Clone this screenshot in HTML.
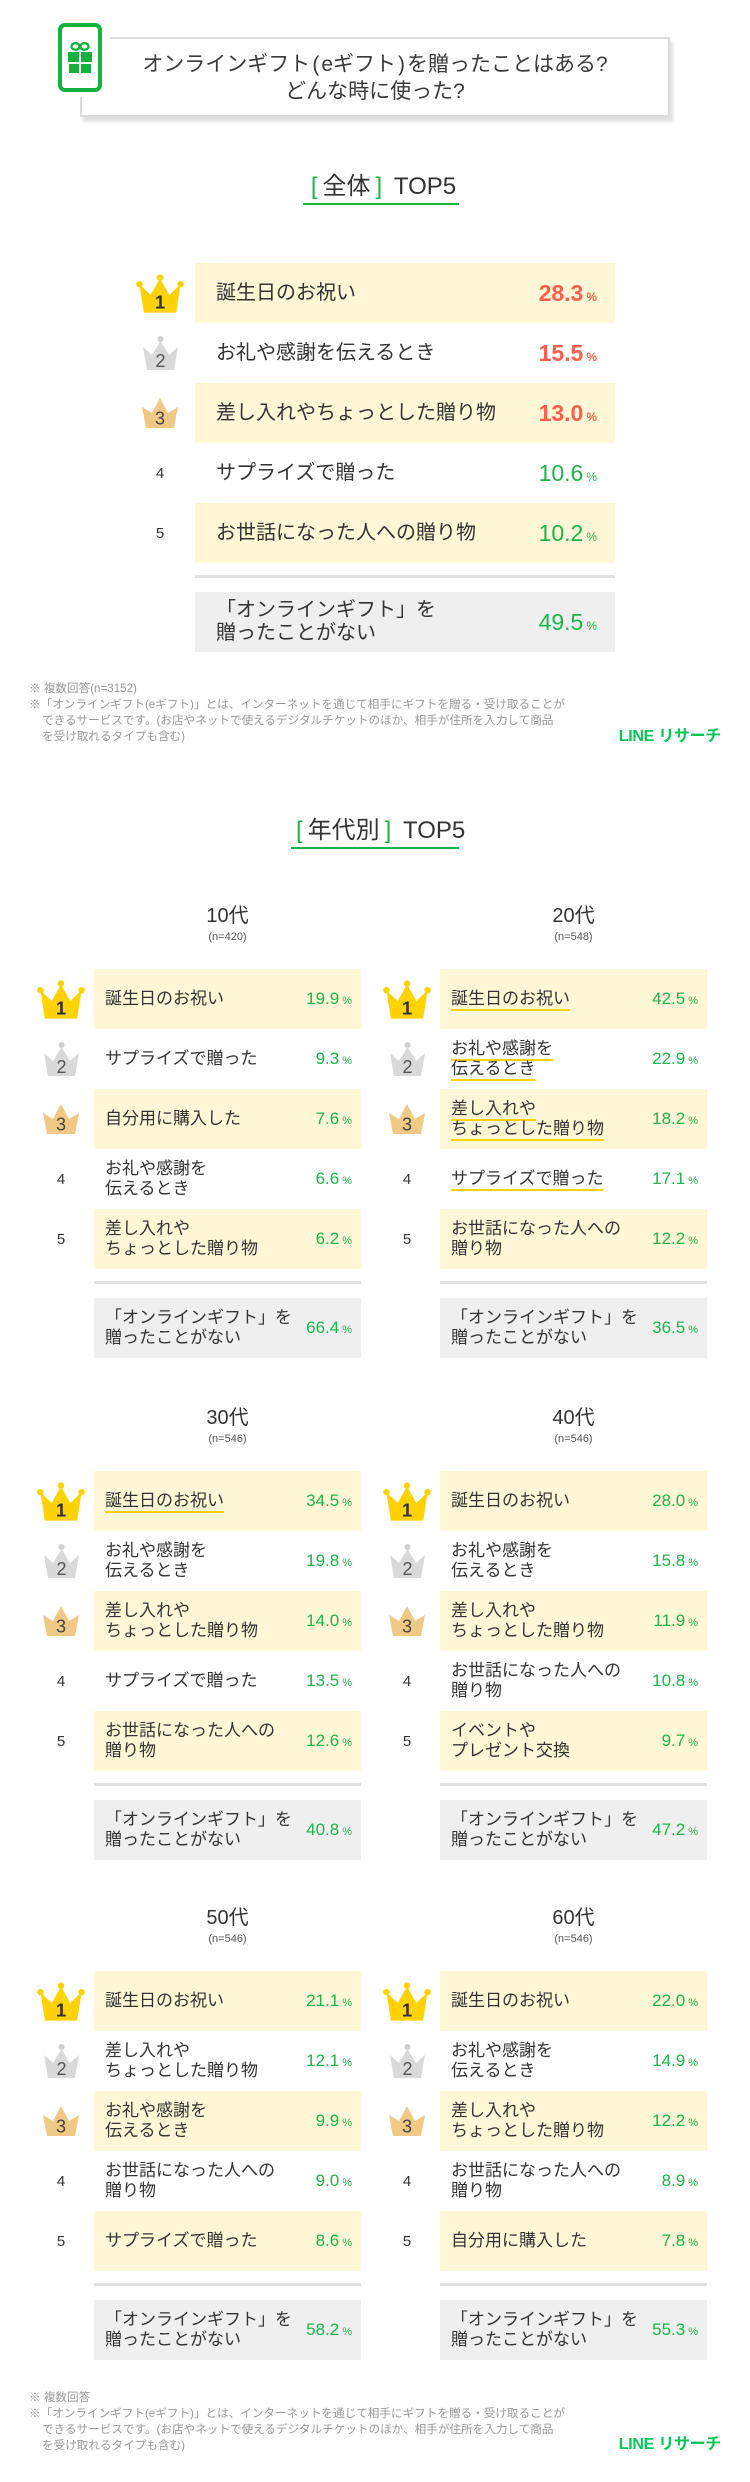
<!DOCTYPE html>
<html lang="ja">
<head>
<meta charset="utf-8">
<style>
*{margin:0;padding:0;box-sizing:border-box}
html,body{width:750px;height:2482px;background:#fff;overflow:hidden}
body{position:relative;font-family:"Liberation Sans","Noto Sans CJK JP",sans-serif;color:#333}
.abs{position:absolute}
.tbox{position:absolute;left:80px;top:37px;width:590px;height:80px;border:2px solid #dcdcdc;box-shadow:3px 5px 3px rgba(0,0,0,0.12);background:#fff}
.halo{position:absolute;left:50px;top:15px;width:60px;height:82px;background:#fff}
.title{position:absolute;left:80px;top:37px;width:590px;text-align:center;font-size:21px;line-height:27px;padding-top:14px;color:#3a3a3a;white-space:nowrap}
.title .p{margin:0 2px}
.h2{position:absolute;height:34px;line-height:32px;font-size:24px;color:#333;border-bottom:2px solid #1db446;text-align:center;white-space:nowrap}
.h2 .b{color:#1db446;margin:0 5px}
.note{position:absolute;left:29px;font-size:11.6px;line-height:16px;color:#999;white-space:nowrap}
.note div{padding-left:13px;text-indent:-13px}
.logo{position:absolute;right:29px;font-size:16px;font-weight:bold;color:#06c755;line-height:20px;white-space:nowrap;letter-spacing:-0.3px}
.panel{position:absolute;width:267px}
.wide{width:420px}
.row{position:relative;height:60px}
.y{background:#fff7d6}
.g{background:#efefef}
.sep{position:absolute;left:0;right:0;top:312px;height:3px;background:#e2e2e2}
.gb{position:absolute;left:0;right:0;top:329px}
.rk{position:absolute;top:0;left:-57px;width:48px;height:60px;display:flex;align-items:center;justify-content:center;font-size:15px;color:#333}
.wide .rk{left:-59px}
.lb{position:absolute;top:0;left:11px;height:60px;display:flex;align-items:center;font-size:17px;line-height:20px;white-space:nowrap;color:#333}
.wide .lb{left:21px;font-size:20px;line-height:23px}
.pc{position:absolute;top:0;right:9px;line-height:60px;font-size:17px;color:#1eb44c;white-space:nowrap}
.pc .u{font-size:11px;margin-left:3px}
.wide .pc{right:18px;font-size:23px}
.wide .pc .u{font-size:12px;margin-left:3px}
.red{color:#ff5f4f;font-weight:bold}
.ul{text-decoration:underline;text-decoration-color:#ffd200;text-decoration-thickness:2px;text-underline-offset:5px;text-decoration-skip-ink:none}
.hd{position:absolute;left:0;width:267px;text-align:center;top:-64px;font-size:20px;line-height:22px;color:#333}
.hn{position:absolute;left:0;width:267px;text-align:center;top:-39px;font-size:11px;line-height:14px;color:#555}
</style>
</head>
<body>

<!-- Title -->
<div class="tbox"></div>
<div class="halo"></div>
<svg class="abs" style="left:58px;top:23px" width="44" height="69" viewBox="0 0 44 69">
<rect x="2" y="2" width="40" height="65" rx="5" fill="none" stroke="#12b23c" stroke-width="4"/>
<ellipse cx="17.5" cy="23.5" rx="4" ry="3.3" fill="none" stroke="#12b23c" stroke-width="2.4"/>
<ellipse cx="26.5" cy="23.5" rx="4" ry="3.3" fill="none" stroke="#12b23c" stroke-width="2.4"/>
<rect x="10" y="29" width="11" height="10" fill="#12b23c"/>
<rect x="23" y="29" width="11" height="10" fill="#12b23c"/>
<rect x="11" y="41" width="10" height="9" fill="#12b23c"/>
<rect x="23" y="41" width="10" height="9" fill="#12b23c"/>
</svg>
<div class="title">オンラインギフト<span class="p">(</span>eギフト<span class="p">)</span>を贈ったことはある?<br>どんな時に使った?</div>

<!-- [全体] TOP5 -->
<div class="h2" style="left:303px;top:171px;width:156px"><span class="b">[</span>全体<span class="b">]</span> TOP5</div>

<div class="panel wide" style="left:195px;top:263px">
  <div class="row y"><div class="rk"><svg width="49" height="39" viewBox="0 0 49 39"><g fill="#ffd200"><circle cx="3.5" cy="10" r="3.3"/><circle cx="24.5" cy="3.3" r="3.3"/><circle cx="45.5" cy="10" r="3.3"/><path d="M3.5 10L15 21L24.5 4L34 21L45.5 10L41 39H8Z"/></g><text x="24.5" y="35" text-anchor="middle" font-family="Liberation Sans,sans-serif" font-weight="bold" font-size="19" fill="#333">1</text></svg></div><div class="lb">誕生日のお祝い</div><div class="pc red">28.3<span class="u">%</span></div></div>
  <div class="row"><div class="rk"><svg width="35" height="34" viewBox="0 0 35 34"><circle cx="17.5" cy="3" r="3" fill="#d0d0d0"/><path d="M0 11L9 19L17.5 5L26 19L35 11L31 34H4Z" fill="#d9d9d9"/><text x="17.5" y="31" text-anchor="middle" font-family="Liberation Sans,sans-serif" font-size="18" fill="#555">2</text></svg></div><div class="lb">お礼や感謝を伝えるとき</div><div class="pc red">15.5<span class="u">%</span></div></div>
  <div class="row y"><div class="rk"><svg width="36" height="30" viewBox="0 0 36 30"><path d="M0 9L10 15L18 0L26 15L36 9L32 30H4Z" fill="#f0c987"/><text x="18" y="26.5" text-anchor="middle" font-family="Liberation Sans,sans-serif" font-size="18" fill="#444">3</text></svg></div><div class="lb">差し入れやちょっとした贈り物</div><div class="pc red">13.0<span class="u">%</span></div></div>
  <div class="row"><div class="rk">4</div><div class="lb">サプライズで贈った</div><div class="pc">10.6<span class="u">%</span></div></div>
  <div class="row y"><div class="rk">5</div><div class="lb">お世話になった人への贈り物</div><div class="pc">10.2<span class="u">%</span></div></div>
  <div class="sep"></div>
  <div class="row g gb"><div class="lb">「オンラインギフト」を<br>贈ったことがない</div><div class="pc">49.5<span class="u">%</span></div></div>
</div>

<div class="note" style="top:681px">
<div>※ 複数回答(n=3152)</div>
<div>※「オンラインギフト(eギフト)」とは、インターネットを通じて相手にギフトを贈る・受け取ることが<br>できるサービスです。(お店やネットで使えるデジタルチケットのほか、相手が住所を入力して商品<br>を受け取れるタイプも含む)</div>
</div>
<div class="logo" style="top:727px">LINE リサーチ</div>

<!-- [年代別] TOP5 -->
<div class="h2" style="left:291px;top:815px;width:168px"><span class="b">[</span>年代別<span class="b">]</span> TOP5</div>

<!-- 10代 -->
<div class="panel" style="left:94px;top:969px">
  <div class="hd">10代</div><div class="hn">(n=420)</div>
  <div class="row y"><div class="rk"><svg width="49" height="39" viewBox="0 0 49 39"><g fill="#ffd200"><circle cx="3.5" cy="10" r="3.3"/><circle cx="24.5" cy="3.3" r="3.3"/><circle cx="45.5" cy="10" r="3.3"/><path d="M3.5 10L15 21L24.5 4L34 21L45.5 10L41 39H8Z"/></g><text x="24.5" y="35" text-anchor="middle" font-family="Liberation Sans,sans-serif" font-weight="bold" font-size="19" fill="#333">1</text></svg></div><div class="lb">誕生日のお祝い</div><div class="pc">19.9<span class="u">%</span></div></div>
  <div class="row"><div class="rk"><svg width="35" height="34" viewBox="0 0 35 34"><circle cx="17.5" cy="3" r="3" fill="#d0d0d0"/><path d="M0 11L9 19L17.5 5L26 19L35 11L31 34H4Z" fill="#d9d9d9"/><text x="17.5" y="31" text-anchor="middle" font-family="Liberation Sans,sans-serif" font-size="18" fill="#555">2</text></svg></div><div class="lb">サプライズで贈った</div><div class="pc">9.3<span class="u">%</span></div></div>
  <div class="row y"><div class="rk"><svg width="36" height="30" viewBox="0 0 36 30"><path d="M0 9L10 15L18 0L26 15L36 9L32 30H4Z" fill="#f0c987"/><text x="18" y="26.5" text-anchor="middle" font-family="Liberation Sans,sans-serif" font-size="18" fill="#444">3</text></svg></div><div class="lb">自分用に購入した</div><div class="pc">7.6<span class="u">%</span></div></div>
  <div class="row"><div class="rk">4</div><div class="lb">お礼や感謝を<br>伝えるとき</div><div class="pc">6.6<span class="u">%</span></div></div>
  <div class="row y"><div class="rk">5</div><div class="lb">差し入れや<br>ちょっとした贈り物</div><div class="pc">6.2<span class="u">%</span></div></div>
  <div class="sep"></div>
  <div class="row g gb"><div class="lb">「オンラインギフト」を<br>贈ったことがない</div><div class="pc">66.4<span class="u">%</span></div></div>
</div>

<!-- 20代 -->
<div class="panel" style="left:440px;top:969px">
  <div class="hd">20代</div><div class="hn">(n=548)</div>
  <div class="row y"><div class="rk"><svg width="49" height="39" viewBox="0 0 49 39"><g fill="#ffd200"><circle cx="3.5" cy="10" r="3.3"/><circle cx="24.5" cy="3.3" r="3.3"/><circle cx="45.5" cy="10" r="3.3"/><path d="M3.5 10L15 21L24.5 4L34 21L45.5 10L41 39H8Z"/></g><text x="24.5" y="35" text-anchor="middle" font-family="Liberation Sans,sans-serif" font-weight="bold" font-size="19" fill="#333">1</text></svg></div><div class="lb"><span class="ul">誕生日のお祝い</span></div><div class="pc">42.5<span class="u">%</span></div></div>
  <div class="row"><div class="rk"><svg width="35" height="34" viewBox="0 0 35 34"><circle cx="17.5" cy="3" r="3" fill="#d0d0d0"/><path d="M0 11L9 19L17.5 5L26 19L35 11L31 34H4Z" fill="#d9d9d9"/><text x="17.5" y="31" text-anchor="middle" font-family="Liberation Sans,sans-serif" font-size="18" fill="#555">2</text></svg></div><div class="lb"><span class="ul">お礼や感謝を<br>伝えるとき</span></div><div class="pc">22.9<span class="u">%</span></div></div>
  <div class="row y"><div class="rk"><svg width="36" height="30" viewBox="0 0 36 30"><path d="M0 9L10 15L18 0L26 15L36 9L32 30H4Z" fill="#f0c987"/><text x="18" y="26.5" text-anchor="middle" font-family="Liberation Sans,sans-serif" font-size="18" fill="#444">3</text></svg></div><div class="lb"><span class="ul">差し入れや<br>ちょっとした贈り物</span></div><div class="pc">18.2<span class="u">%</span></div></div>
  <div class="row"><div class="rk">4</div><div class="lb"><span class="ul">サプライズで贈った</span></div><div class="pc">17.1<span class="u">%</span></div></div>
  <div class="row y"><div class="rk">5</div><div class="lb">お世話になった人への<br>贈り物</div><div class="pc">12.2<span class="u">%</span></div></div>
  <div class="sep"></div>
  <div class="row g gb"><div class="lb">「オンラインギフト」を<br>贈ったことがない</div><div class="pc">36.5<span class="u">%</span></div></div>
</div>

<!-- 30代 -->
<div class="panel" style="left:94px;top:1471px">
  <div class="hd">30代</div><div class="hn">(n=546)</div>
  <div class="row y"><div class="rk"><svg width="49" height="39" viewBox="0 0 49 39"><g fill="#ffd200"><circle cx="3.5" cy="10" r="3.3"/><circle cx="24.5" cy="3.3" r="3.3"/><circle cx="45.5" cy="10" r="3.3"/><path d="M3.5 10L15 21L24.5 4L34 21L45.5 10L41 39H8Z"/></g><text x="24.5" y="35" text-anchor="middle" font-family="Liberation Sans,sans-serif" font-weight="bold" font-size="19" fill="#333">1</text></svg></div><div class="lb"><span class="ul">誕生日のお祝い</span></div><div class="pc">34.5<span class="u">%</span></div></div>
  <div class="row"><div class="rk"><svg width="35" height="34" viewBox="0 0 35 34"><circle cx="17.5" cy="3" r="3" fill="#d0d0d0"/><path d="M0 11L9 19L17.5 5L26 19L35 11L31 34H4Z" fill="#d9d9d9"/><text x="17.5" y="31" text-anchor="middle" font-family="Liberation Sans,sans-serif" font-size="18" fill="#555">2</text></svg></div><div class="lb">お礼や感謝を<br>伝えるとき</div><div class="pc">19.8<span class="u">%</span></div></div>
  <div class="row y"><div class="rk"><svg width="36" height="30" viewBox="0 0 36 30"><path d="M0 9L10 15L18 0L26 15L36 9L32 30H4Z" fill="#f0c987"/><text x="18" y="26.5" text-anchor="middle" font-family="Liberation Sans,sans-serif" font-size="18" fill="#444">3</text></svg></div><div class="lb">差し入れや<br>ちょっとした贈り物</div><div class="pc">14.0<span class="u">%</span></div></div>
  <div class="row"><div class="rk">4</div><div class="lb">サプライズで贈った</div><div class="pc">13.5<span class="u">%</span></div></div>
  <div class="row y"><div class="rk">5</div><div class="lb">お世話になった人への<br>贈り物</div><div class="pc">12.6<span class="u">%</span></div></div>
  <div class="sep"></div>
  <div class="row g gb"><div class="lb">「オンラインギフト」を<br>贈ったことがない</div><div class="pc">40.8<span class="u">%</span></div></div>
</div>

<!-- 40代 -->
<div class="panel" style="left:440px;top:1471px">
  <div class="hd">40代</div><div class="hn">(n=546)</div>
  <div class="row y"><div class="rk"><svg width="49" height="39" viewBox="0 0 49 39"><g fill="#ffd200"><circle cx="3.5" cy="10" r="3.3"/><circle cx="24.5" cy="3.3" r="3.3"/><circle cx="45.5" cy="10" r="3.3"/><path d="M3.5 10L15 21L24.5 4L34 21L45.5 10L41 39H8Z"/></g><text x="24.5" y="35" text-anchor="middle" font-family="Liberation Sans,sans-serif" font-weight="bold" font-size="19" fill="#333">1</text></svg></div><div class="lb">誕生日のお祝い</div><div class="pc">28.0<span class="u">%</span></div></div>
  <div class="row"><div class="rk"><svg width="35" height="34" viewBox="0 0 35 34"><circle cx="17.5" cy="3" r="3" fill="#d0d0d0"/><path d="M0 11L9 19L17.5 5L26 19L35 11L31 34H4Z" fill="#d9d9d9"/><text x="17.5" y="31" text-anchor="middle" font-family="Liberation Sans,sans-serif" font-size="18" fill="#555">2</text></svg></div><div class="lb">お礼や感謝を<br>伝えるとき</div><div class="pc">15.8<span class="u">%</span></div></div>
  <div class="row y"><div class="rk"><svg width="36" height="30" viewBox="0 0 36 30"><path d="M0 9L10 15L18 0L26 15L36 9L32 30H4Z" fill="#f0c987"/><text x="18" y="26.5" text-anchor="middle" font-family="Liberation Sans,sans-serif" font-size="18" fill="#444">3</text></svg></div><div class="lb">差し入れや<br>ちょっとした贈り物</div><div class="pc">11.9<span class="u">%</span></div></div>
  <div class="row"><div class="rk">4</div><div class="lb">お世話になった人への<br>贈り物</div><div class="pc">10.8<span class="u">%</span></div></div>
  <div class="row y"><div class="rk">5</div><div class="lb">イベントや<br>プレゼント交換</div><div class="pc">9.7<span class="u">%</span></div></div>
  <div class="sep"></div>
  <div class="row g gb"><div class="lb">「オンラインギフト」を<br>贈ったことがない</div><div class="pc">47.2<span class="u">%</span></div></div>
</div>

<!-- 50代 -->
<div class="panel" style="left:94px;top:1971px">
  <div class="hd">50代</div><div class="hn">(n=546)</div>
  <div class="row y"><div class="rk"><svg width="49" height="39" viewBox="0 0 49 39"><g fill="#ffd200"><circle cx="3.5" cy="10" r="3.3"/><circle cx="24.5" cy="3.3" r="3.3"/><circle cx="45.5" cy="10" r="3.3"/><path d="M3.5 10L15 21L24.5 4L34 21L45.5 10L41 39H8Z"/></g><text x="24.5" y="35" text-anchor="middle" font-family="Liberation Sans,sans-serif" font-weight="bold" font-size="19" fill="#333">1</text></svg></div><div class="lb">誕生日のお祝い</div><div class="pc">21.1<span class="u">%</span></div></div>
  <div class="row"><div class="rk"><svg width="35" height="34" viewBox="0 0 35 34"><circle cx="17.5" cy="3" r="3" fill="#d0d0d0"/><path d="M0 11L9 19L17.5 5L26 19L35 11L31 34H4Z" fill="#d9d9d9"/><text x="17.5" y="31" text-anchor="middle" font-family="Liberation Sans,sans-serif" font-size="18" fill="#555">2</text></svg></div><div class="lb">差し入れや<br>ちょっとした贈り物</div><div class="pc">12.1<span class="u">%</span></div></div>
  <div class="row y"><div class="rk"><svg width="36" height="30" viewBox="0 0 36 30"><path d="M0 9L10 15L18 0L26 15L36 9L32 30H4Z" fill="#f0c987"/><text x="18" y="26.5" text-anchor="middle" font-family="Liberation Sans,sans-serif" font-size="18" fill="#444">3</text></svg></div><div class="lb">お礼や感謝を<br>伝えるとき</div><div class="pc">9.9<span class="u">%</span></div></div>
  <div class="row"><div class="rk">4</div><div class="lb">お世話になった人への<br>贈り物</div><div class="pc">9.0<span class="u">%</span></div></div>
  <div class="row y"><div class="rk">5</div><div class="lb">サプライズで贈った</div><div class="pc">8.6<span class="u">%</span></div></div>
  <div class="sep"></div>
  <div class="row g gb"><div class="lb">「オンラインギフト」を<br>贈ったことがない</div><div class="pc">58.2<span class="u">%</span></div></div>
</div>

<!-- 60代 -->
<div class="panel" style="left:440px;top:1971px">
  <div class="hd">60代</div><div class="hn">(n=546)</div>
  <div class="row y"><div class="rk"><svg width="49" height="39" viewBox="0 0 49 39"><g fill="#ffd200"><circle cx="3.5" cy="10" r="3.3"/><circle cx="24.5" cy="3.3" r="3.3"/><circle cx="45.5" cy="10" r="3.3"/><path d="M3.5 10L15 21L24.5 4L34 21L45.5 10L41 39H8Z"/></g><text x="24.5" y="35" text-anchor="middle" font-family="Liberation Sans,sans-serif" font-weight="bold" font-size="19" fill="#333">1</text></svg></div><div class="lb">誕生日のお祝い</div><div class="pc">22.0<span class="u">%</span></div></div>
  <div class="row"><div class="rk"><svg width="35" height="34" viewBox="0 0 35 34"><circle cx="17.5" cy="3" r="3" fill="#d0d0d0"/><path d="M0 11L9 19L17.5 5L26 19L35 11L31 34H4Z" fill="#d9d9d9"/><text x="17.5" y="31" text-anchor="middle" font-family="Liberation Sans,sans-serif" font-size="18" fill="#555">2</text></svg></div><div class="lb">お礼や感謝を<br>伝えるとき</div><div class="pc">14.9<span class="u">%</span></div></div>
  <div class="row y"><div class="rk"><svg width="36" height="30" viewBox="0 0 36 30"><path d="M0 9L10 15L18 0L26 15L36 9L32 30H4Z" fill="#f0c987"/><text x="18" y="26.5" text-anchor="middle" font-family="Liberation Sans,sans-serif" font-size="18" fill="#444">3</text></svg></div><div class="lb">差し入れや<br>ちょっとした贈り物</div><div class="pc">12.2<span class="u">%</span></div></div>
  <div class="row"><div class="rk">4</div><div class="lb">お世話になった人への<br>贈り物</div><div class="pc">8.9<span class="u">%</span></div></div>
  <div class="row y"><div class="rk">5</div><div class="lb">自分用に購入した</div><div class="pc">7.8<span class="u">%</span></div></div>
  <div class="sep"></div>
  <div class="row g gb"><div class="lb">「オンラインギフト」を<br>贈ったことがない</div><div class="pc">55.3<span class="u">%</span></div></div>
</div>

<div class="note" style="top:2390px">
<div>※ 複数回答</div>
<div>※「オンラインギフト(eギフト)」とは、インターネットを通じて相手にギフトを贈る・受け取ることが<br>できるサービスです。(お店やネットで使えるデジタルチケットのほか、相手が住所を入力して商品<br>を受け取れるタイプも含む)</div>
</div>
<div class="logo" style="top:2435px">LINE リサーチ</div>

</body>
</html>
